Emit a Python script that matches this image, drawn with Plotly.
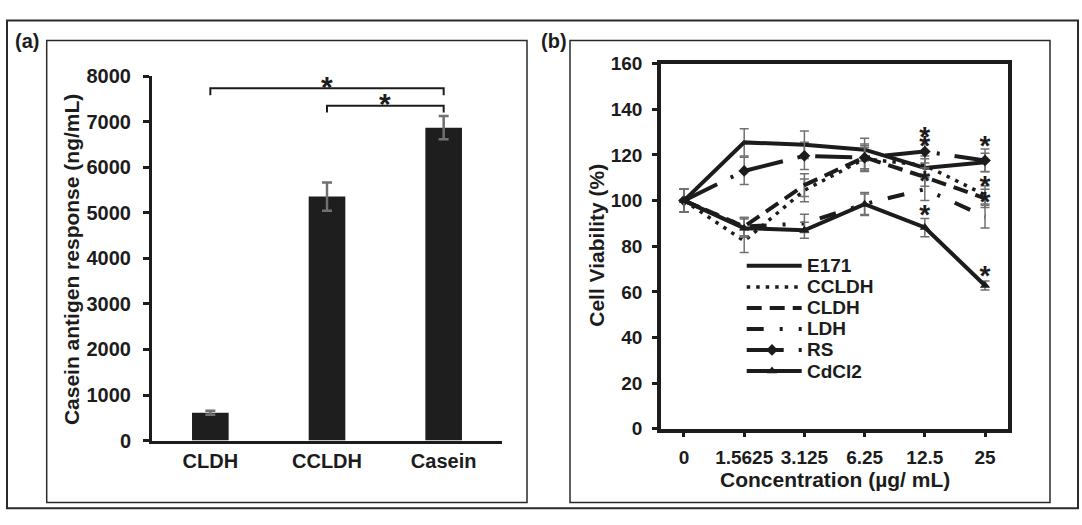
import plotly.graph_objects as go

W, H = 1082, 525
FONT = "Liberation Sans, Arial, sans-serif"
INK = "#1c1c1c"
ERRC = "#707070"

# ---------------- Panel (a) data ----------------
cat_a = ["CLDH", "CCLDH", "Casein"]
val_a = [610, 5360, 6875]
err_a = [45, 310, 255]
# significance brackets: (left category index, right category index, tick-bottom value, bar value)
brackets = [(0, 2, 7585, 7740), (1, 2, 7205, 7355)]

# ---------------- Panel (b) data ----------------
conc = ["0", "1.5625", "3.125", "6.25", "12.5", "25"]
e171 = [100, 125.5, 124.5, 122.3, 114.3, 116.8]
ccldh = [100, 82.3, 104.5, 118.3, 115.5, 102.5]
cldh = [100, 88.6, 106.8, 119.0, 110.3, 101.0]
ldh = [100, 88.6, 90.0, 98.5, 105.0, 93.0]
rs = [100, 113.0, 119.6, 118.8, 121.5, 117.6]
cdcl2 = [100, 87.9, 87.0, 98.4, 88.2, 62.8]

e171_err = [5, 6, 6, 5, 4, 4]
ccldh_err = [5, 5, 5, 5, 4, 4]
cldh_err = [5, 4, 5, 5, 4, 4]
ldh_err = [5, 4, 4, 5, 5, 5]
rs_err = [5, 6, 6, 6, 5, 5]
cdcl2_err = [5, 4, 3.5, 4.5, 4, 2]

sig_x = ["12.5", "12.5", "12.5", "12.5", "25", "25", "25", "25"]
sig_y = [129.5, 125.5, 110.0, 95.5, 125.5, 108.0, 101.0, 68.5]

series_names = ["E171", "CCLDH", "CLDH", "LDH", "RS", "CdCl2"]

# ---------------- styling ----------------
styles = {
    "E171": dict(dash="solid", width=4, marker=None),
    "CCLDH": dict(dash="3.5px,6px", width=3.5, marker=None),
    "CLDH": dict(dash="15px,8px", width=4, marker=None),
    "LDH": dict(dash="17px,16px,3px,16px,3px,16px", width=4, marker=None),
    "RS": dict(dash="37px,15px,3px,15px", width=4, marker="diamond"),
    "CdCl2": dict(dash="solid", width=4, marker="triangle-up"),
}
series_vals = [e171, ccldh, cldh, ldh, rs, cdcl2]
series_errs = [e171_err, ccldh_err, cldh_err, ldh_err, rs_err, cdcl2_err]


def px(x):
    return x / W


def py(y):
    return 1 - y / H


fig = go.Figure()
shapes = []
annotations = []

# ----- Panel (a) bars -----
fig.add_trace(go.Bar(
    x=cat_a, y=val_a, width=0.314,
    marker=dict(color="#1e1e1e", line=dict(width=0)),
    error_y=dict(type="data", array=err_a, color=ERRC, thickness=2.5, width=5),
    xaxis="x", yaxis="y", showlegend=False,
))

# ----- Panel (b) lines -----
for name, vals, errs in zip(series_names, series_vals, series_errs):
    st = styles[name]
    fig.add_trace(go.Scatter(
        x=conc, y=vals, name=name,
        mode="lines+markers" if st["marker"] else "lines",
        line=dict(color=INK, width=st["width"], dash=st["dash"]),
        marker=dict(symbol=st["marker"] or "circle", size=9, color=INK),
        error_y=dict(type="data", array=errs, color=ERRC, thickness=1.5, width=4.5),
        xaxis="x2", yaxis="y2", showlegend=False,
    ))

star_shift = 2.5
fig.add_trace(go.Scatter(
    x=sig_x, y=[v - star_shift for v in sig_y], mode="text", text=["*"] * len(sig_x),
    textposition="middle center",
    textfont=dict(family=FONT, size=28, color=INK, weight="bold"),
    xaxis="x2", yaxis="y2", showlegend=False, hoverinfo="skip",
))

# ----- custom legend for panel (b) drawn on a full-page pixel axis -----
leg_x0, leg_x1, leg_y0, leg_dy, leg_tx = 746.7, 801.7, 266.0, 21.95, 805.0
for i, name in enumerate(series_names):
    st = styles[name]
    yy = leg_y0 + i * leg_dy
    fig.add_trace(go.Scatter(
        x=[leg_x0, leg_x1], y=[yy, yy], mode="lines",
        line=dict(color=INK, width=st["width"], dash=st["dash"]),
        xaxis="x3", yaxis="y3", showlegend=False, hoverinfo="skip",
    ))
    if st["marker"]:
        fig.add_trace(go.Scatter(
            x=[772.0], y=[yy], mode="markers",
            marker=dict(symbol=st["marker"], size=9, color=INK),
            xaxis="x3", yaxis="y3", showlegend=False, hoverinfo="skip",
        ))
    annotations.append(dict(x=leg_tx, y=yy, xref="x3", yref="y3", text=name,
                            showarrow=False, xanchor="left", yanchor="middle",
                            font=dict(family=FONT, size=19, color=INK, weight="bold")))

# ----- significance brackets panel (a) -----
for (i0, i1, yb, yt) in brackets:
    shapes.append(dict(type="path", xref="x", yref="y",
                       path=f"M {i0},{yb} L {i0},{yt} L {i1},{yt} L {i1},{yb}",
                       line=dict(color=INK, width=2)))
    annotations.append(dict(x=(i0 + i1) / 2, y=yt, xref="x", yref="y", text="*",
                            showarrow=False, yanchor="middle", yshift=2,
                            font=dict(family=FONT, size=30, color=INK, weight="bold")))

# ----- frames -----
shapes.append(dict(type="rect", xref="paper", yref="paper",
                   x0=px(7), x1=px(1078), y0=py(519), y1=py(10),
                   line=dict(color="#2a2a2a", width=2)))
shapes.append(dict(type="rect", xref="paper", yref="paper",
                   x0=px(46.7), x1=px(527), y0=py(513), y1=py(30.7),
                   line=dict(color="#2a2a2a", width=1.5)))
shapes.append(dict(type="rect", xref="paper", yref="paper",
                   x0=px(570), x1=px(1050), y0=py(513), y1=py(30.7),
                   line=dict(color="#2a2a2a", width=1.5)))

# panel labels and axis titles
annotations += [
    dict(x=px(13), y=py(31), xref="paper", yref="paper", text="(a)", showarrow=False,
         xanchor="left", yanchor="middle", font=dict(family=FONT, size=20, color=INK, weight="bold")),
    dict(x=px(539), y=py(31), xref="paper", yref="paper", text="(b)", showarrow=False,
         xanchor="left", yanchor="middle", font=dict(family=FONT, size=20, color=INK, weight="bold")),
    dict(x=px(71), y=py(260), xref="paper", yref="paper", text="Casein antigen response (ng/mL)",
         showarrow=False, textangle=-90, xanchor="center", yanchor="middle",
         font=dict(family=FONT, size=21, color=INK, weight="bold")),
    dict(x=px(597), y=py(245), xref="paper", yref="paper", text="Cell Viability (%)",
         showarrow=False, textangle=-90, xanchor="center", yanchor="middle",
         font=dict(family=FONT, size=21, color=INK, weight="bold")),
    dict(x=px(834.5), y=py(489), xref="paper", yref="paper", text="Concentration (µg/ mL)",
         showarrow=False, xanchor="center", yanchor="middle",
         font=dict(family=FONT, size=21, color=INK, weight="bold")),
]

tickfont_a = dict(family=FONT, size=20, color=INK, weight="bold")
tickfont_b = dict(family=FONT, size=19, color=INK, weight="bold")

fig.update_layout(
    width=W, height=H,
    margin=dict(l=0, r=0, t=0, b=0),
    paper_bgcolor="white", plot_bgcolor="rgba(0,0,0,0)",
    showlegend=False,
    xaxis=dict(domain=[px(152), px(502)], anchor="y", type="category",
               showline=True, linewidth=3, linecolor=INK, ticks="",
               tickfont=dict(family=FONT, size=20, color=INK, weight="bold"),
               showgrid=False, zeroline=False, fixedrange=True),
    yaxis=dict(domain=[py(448.3), py(68.3)], anchor="x", range=[0, 8000], dtick=1000,
               showline=True, linewidth=3, linecolor=INK, ticks="outside", ticklen=6,
               tickwidth=3, tickcolor=INK, tickfont=tickfont_a, ticklabelstandoff=8,
               showgrid=False, zeroline=False),
    xaxis2=dict(domain=[px(661), px(1008)], anchor="y2", type="category",
                showline=True, linewidth=3.5, linecolor=INK, mirror=True,
                ticks="outside", ticklen=5, tickwidth=2.5, tickcolor=INK,
                tickfont=tickfont_b, ticklabelstandoff=4,
                showgrid=False, zeroline=False),
    yaxis2=dict(domain=[py(436), py(55)], anchor="x2", range=[0, 160], dtick=20,
                showline=True, linewidth=3.5, linecolor=INK, mirror=True,
                ticks="outside", ticklen=5, tickwidth=2.5, tickcolor=INK,
                tickfont=tickfont_b, ticklabelstandoff=6,
                showgrid=False, zeroline=False),
    xaxis3=dict(domain=[0, 1], anchor="y3", range=[0, W], visible=False),
    yaxis3=dict(domain=[0, 1], anchor="x3", range=[H, 0], visible=False),
    shapes=shapes,
    annotations=annotations,
)

fig.write_html("out.html")
